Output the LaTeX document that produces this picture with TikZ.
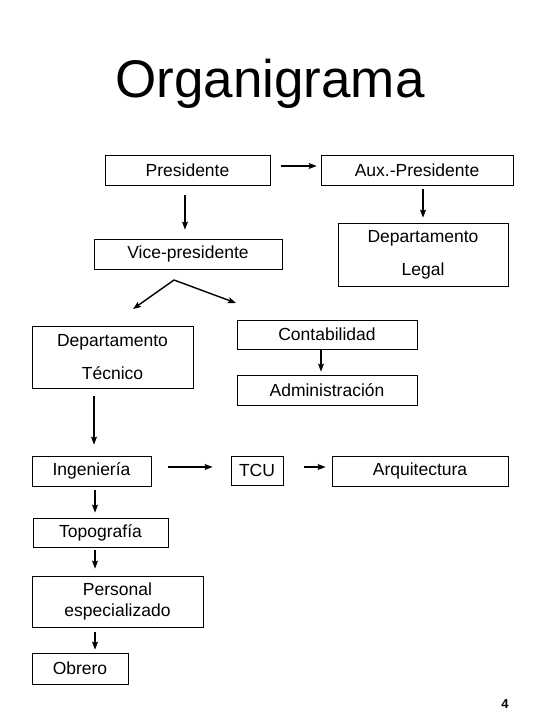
\documentclass[tikz,border=0pt]{standalone}
\usepackage{fontspec}
\setmainfont{Liberation Sans}
\usepackage{tikz}
\usetikzlibrary{calc,arrows.meta}

\begin{document}
\begin{tikzpicture}[x=1pt,y=-1pt,
	box/.style={draw,line width=0.8pt,inner sep=0pt,align=center,
		font=\fontsize{17.5}{33}\selectfont},
	arr/.style={-{Stealth[length=8pt,width=6pt,inset=1.5pt]},line width=1.4pt}]
			\useasboundingbox (0,0) rectangle (540,720);
			
			\node[anchor=base,font=\fontsize{53}{60}\selectfont] (title) at (270,97) {Organigrama};
			
			\node[box,minimum width=165,minimum height=30] (pres) at (187.5,170) {Presidente};
			\node[box,minimum width=192,minimum height=30] (aux) at (417,170) {Aux.-Presidente};
			\node[box,minimum width=188,minimum height=30] (vice) at (188,254) {Vice-presidente};
			\node[box,minimum width=170,minimum height=63] (legal) at (423,254.5) {Departamento\\Legal};
			\node[box,minimum width=161,minimum height=62] (tec) at (112.5,357) {Departamento\\T\'ecnico};
			\node[box,minimum width=180,minimum height=29] (cont) at (327,334.5) {Contabilidad};
			\node[box,minimum width=180,minimum height=30] (admin) at (327,390) {Administraci\'on};
			\node[box,minimum width=119,minimum height=30] (ing) at (91.5,471) {Ingenier\'ia};
			\node[box,minimum width=52,minimum height=29] (tcu) at (257,470.5) {TCU};
			\node[box,minimum width=176,minimum height=30] (arq) at (420,471) {Arquitectura};
			\node[box,minimum width=135,minimum height=29] (topo) at (100.5,532.5) {Topograf\'ia};
			\node[box,minimum width=171,minimum height=51,
				font=\fontsize{17.5}{21}\selectfont] (pers) at (117.5,601.5) {Personal\\especializado};
			\node[box,minimum width=96,minimum height=31] (obrero) at (80,668.5) {Obrero};
			
			\coordinate (fork) at (174,280);
			\coordinate (tecin) at (133,309);
			\coordinate (contin) at (236,303);
			
			\draw[arr] ($(pres.east)+(11,-4)$)--($(aux.west)+(-4,-4)$);
			\draw[arr] ($(pres.south)+(-2.5,10)$)--($(vice.north)+(-3,-9)$);
			\draw[arr] ($(aux.south)+(6,4)$)--($(legal.north)+(0,-5)$);
			\draw[{Stealth[length=8pt,width=6pt,inset=1.5pt]}-{Stealth[length=8pt,width=6pt,inset=1.5pt]},line width=1.4pt]
				(tecin)--(fork)--(contin);
			\draw[arr] ($(cont.south)+(-6,1)$)--($(admin.north)+(-6,-3)$);
			\draw[arr] ($(tec.south)+(-18.5,8)$)--($(ing.north)+(2.5,-11)$);
			\draw[arr] ($(ing.east)+(17,-4)$)--($(tcu.west)+(-18,-3.5)$);
			\draw[arr] ($(tcu.east)+(21,-3.5)$)--($(arq.west)+(-6,-4)$);
			\draw[arr] ($(ing.south)+(3.5,4)$)--($(topo.north)+(-5.5,-5)$);
			\draw[arr] ($(topo.south)+(-5.5,3)$)--($(pers.north)+(-22.5,-7)$);
			\draw[arr] ($(pers.south)+(-22.5,5)$)--($(obrero.north)+(15,-3)$);
			
			\node[anchor=base,font=\fontsize{13}{15}\bfseries] (page) at (505,708) {4};
		\end{tikzpicture}
\end{document}
